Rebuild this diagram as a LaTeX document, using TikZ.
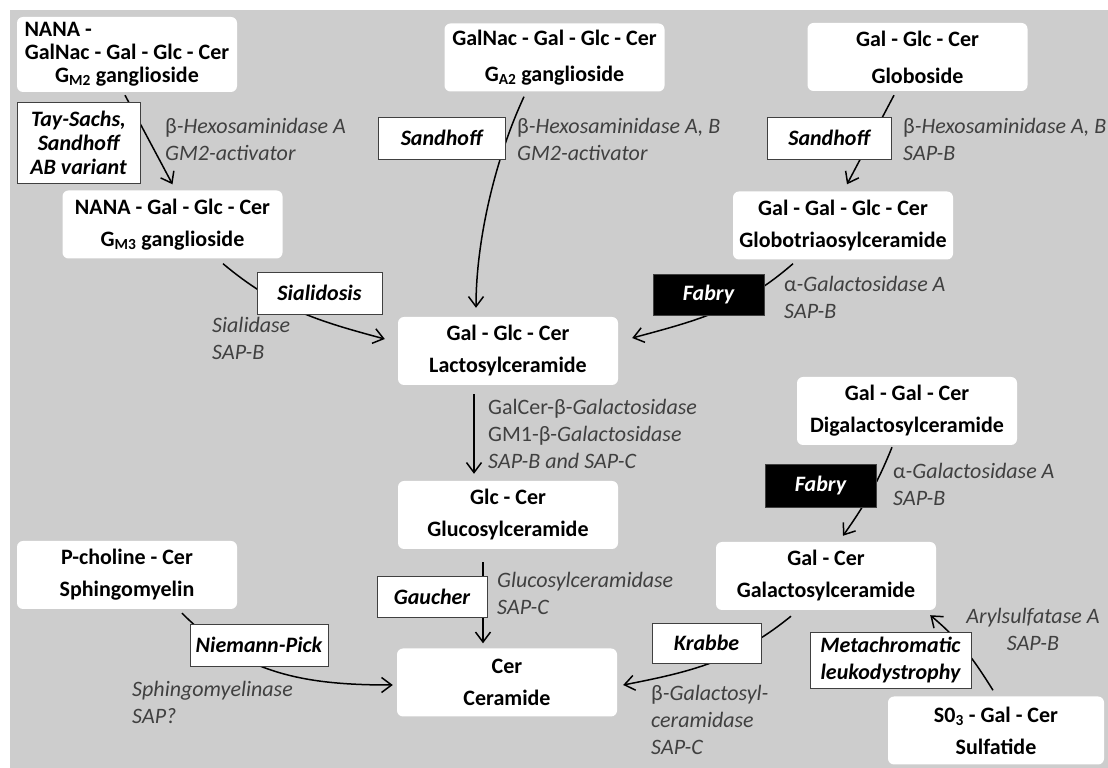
\documentclass[tikz,border=0pt]{standalone}
\usepackage{fontspec}
\setmainfont{Carlito}
\usepackage{tikz}
\usetikzlibrary{arrows.meta}

\definecolor{panel}{RGB}{205,205,205}
\definecolor{enz}{RGB}{64,64,64}
\newcommand{\upb}{\textup{β}}
\newcommand{\upa}{\textup{α}}

\begin{document}
\begin{tikzpicture}[x=1pt, y=1pt,
		lipid/.style={fill=white, rounded corners=6pt, minimum width=220pt, minimum height=68pt, inner sep=0pt, align=center, font=\bfseries\fontsize{22}{32}\selectfont},
		disease/.style={draw=black!75, line width=0.9pt, fill=white, inner sep=0pt, align=center, font=\bfseries\itshape\fontsize{22}{24}\selectfont},
		fabry/.style={disease, fill=black, text=white},
		enzyme/.style={anchor=north west, inner sep=0pt, align=left, text=enz, font=\itshape\fontsize{22}{27}\selectfont},
		react/.style={line width=1.5pt, -{Straight Barb[length=10pt,width=15pt]}}]
			
			% background panel
			\fill [white] (0,0) rectangle (1108,768);
			\fill [panel] (10,0) rectangle (1108,758);
			\useasboundingbox (0,0) rectangle (1108,768);
			
			% lipids
			\node [lipid, minimum height=75pt] (gm2) at (127,713.5) {\makebox[205pt][l]{NANA -}\\[-9pt]GalNac - Gal - Glc - Cer\\[-9pt]G\textsubscript{M2} ganglioside};
			\node [lipid] (ga2) at (554.5,710.5) {GalNac - Gal - Glc - Cer\\[4pt]G\textsubscript{A2} ganglioside};
			\node [lipid] (glob) at (917.5,711) {Gal - Glc - Cer\\[5pt]Globoside};
			\node [lipid] (gm3) at (172.5,543.5) {NANA - Gal - Glc - Cer\\G\textsubscript{M3} ganglioside};
			\node [lipid] (gb3) at (843,542.5) {Gal - Gal - Glc - Cer\\Globotriaosylceramide};
			\node [lipid] (lacto) at (508,417) {Gal - Glc - Cer\\Lactosylceramide};
			\node [lipid] (gluco) at (508,253) {Glc - Cer\\Glucosylceramide};
			\node [lipid] (cer) at (507,85.5) {Cer\\Ceramide};
			\node [lipid] (digal) at (907,357) {Gal - Gal - Cer\\Digalactosylceramide};
			\node [lipid] (galcer) at (826,192) {Gal - Cer\\Galactosylceramide};
			\node [lipid] (sphingo) at (127,193) {P-choline - Cer\\Sphingomyelin};
			\node [lipid, minimum width=216pt] (sulf) at (996,37.5) {S0\textsubscript{3} - Gal - Cer\\Sulfatide};
			
			% reactions
			\begin{scope}[react]
				\draw ([xshift=-2,yshift=-3]gm2.south) -- ([yshift=6]gm3.north);
				\draw ([xshift=-30.5,yshift=-5]ga2.south) to [out=245, in=90, looseness=0.8] ([xshift=-32,yshift=9]lacto.north);
				\draw ([xshift=-23.5,yshift=-4]glob.south) -- ([xshift=4,yshift=7]gb3.north);
				\draw ([xshift=50.5,yshift=-5]gm3.south) to [out=-40, in=165] ([xshift=-13,yshift=12]lacto.west);
				\draw ([xshift=-50,yshift=-4]gb3.south) to [out=221, in=15] ([xshift=14,yshift=13]lacto.east);
				\draw ([xshift=-34,yshift=-9]lacto.south) -- ([xshift=-34,yshift=7]gluco.north);
				\draw ([xshift=-25,yshift=-13]gluco.south) -- ([xshift=-24,yshift=5]cer.north);
				\draw ([xshift=55,yshift=-4]sphingo.south) to [out=-45, in=180] ([xshift=-4,yshift=-2.5]cer.west);
				\draw ([xshift=-15,yshift=-2]digal.south) to [out=248, in=55] ([xshift=17,yshift=6]galcer.north);
				\draw ([xshift=-35,yshift=-6]galcer.south) to [out=219, in=11] ([xshift=6,yshift=-2.5]cer.east);
				\draw ([xshift=-3,yshift=6]sulf.north) to [out=122, in=-40] ([xshift=-6,yshift=-5]galcer.south east);
			\end{scope}
			
			% diseases
			\node [disease, minimum width=123pt, minimum height=81pt] (taysachs) at (78.5,625.5) {Tay-Sachs,\\Sandhoff\\AB variant};
			\node [disease, minimum width=127pt, minimum height=42pt] (sandA) at (441.5,630) {Sandhoff};
			\node [disease, minimum width=124pt, minimum height=42pt] (sandB) at (829,630) {Sandhoff};
			\node [disease, minimum width=125pt, minimum height=42pt] (sial) at (319.5,475) {Sialidosis};
			\node [fabry, minimum width=111pt, minimum height=41pt] (fabryA) at (708.5,473.5) {Fabry};
			\node [fabry, minimum width=111pt, minimum height=43pt] (fabryB) at (820.5,282.5) {Fabry};
			\node [disease, minimum width=110pt, minimum height=41pt] (gaucher) at (432,171.5) {Gaucher};
			\node [disease, minimum width=138pt, minimum height=42pt] (niemann) at (259,123) {Niemann-Pick};
			\node [disease, minimum width=161pt, minimum height=56pt, font=\bfseries\itshape\fontsize{22}{27}\selectfont] (mld) at (890.5,108) {Metachromatic\\leukodystrophy};
			\node [disease, minimum width=109pt, minimum height=40pt] (krabbe) at (706.5,125) {Krabbe};
			
			% enzymes
			\node [enzyme] (hexA) at (165,650) {\upb-Hexosaminidase A\\GM2-activator};
			\node [enzyme] (hexAB) at (517,650) {\upb-Hexosaminidase A, B\\GM2-activator};
			\node [enzyme] (hexABsap) at (903,650) {\upb-Hexosaminidase A, B\\SAP-B};
			\node [enzyme] (sialidase) at (212,451) {Sialidase\\SAP-B};
			\node [enzyme] (galA) at (784,492) {\upa-Galactosidase A\\SAP-B};
			\node [enzyme] (galB) at (488,369) {{\upshape GalCer-β-}Galactosidase\\{\upshape GM1-β-}Galactosidase\\SAP-B and SAP-C};
			\node [enzyme] (galAdi) at (893,305) {\upa-Galactosidase A\\SAP-B};
			\node [enzyme] (glucase) at (497,196) {Glucosylceramidase\\SAP-C};
			\node [enzyme] (smase) at (132,87) {Sphingomyelinase\\SAP?};
			\node [enzyme] (galcase) at (651,83) {\upb-Galactosyl-\\ceramidase\\SAP-C};
			\node [enzyme, anchor=north, align=center] (arsa) at (1033,160) {Arylsulfatase A\\SAP-B};
		\end{tikzpicture}
\end{document}
